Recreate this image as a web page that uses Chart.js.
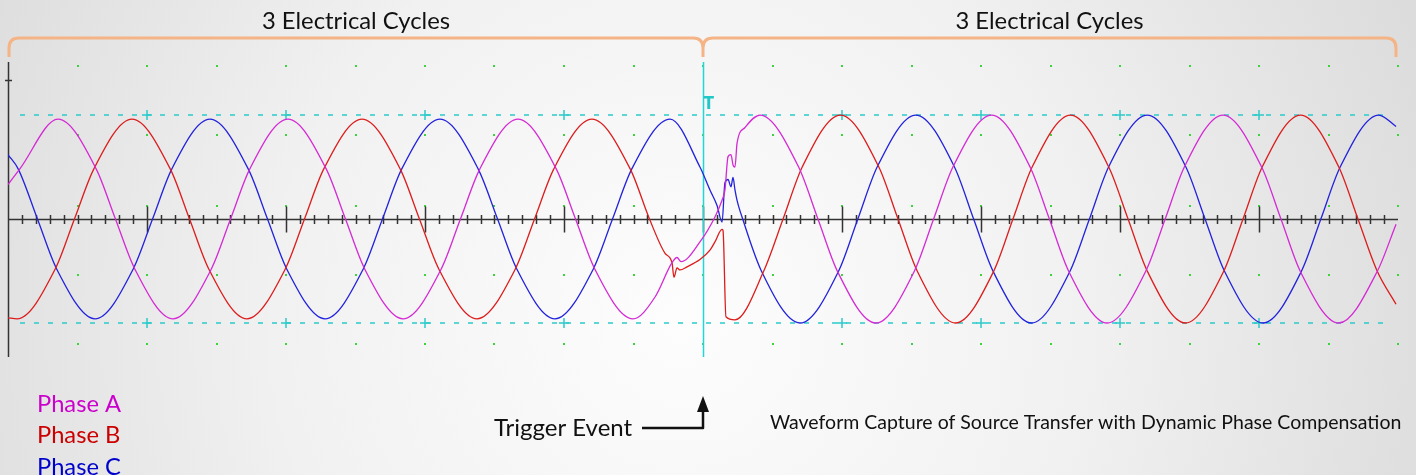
<!DOCTYPE html>
<html lang="en-US">
<head>
<title>Waveform Capture</title>
<script src="https://cdn.jsdelivr.net/npm/chart.js@4.4.0/dist/chart.umd.min.js"></script>
<style>
    body { margin: 0; overflow: hidden; background: #e4e4e4; }
</style>
</head>
<body>
<canvas id="chart-0" width="1416" height="475"></canvas>
<script>
// time in ms (10 ms / division), values in per unit (dashed lines = +/-1)
var phaseA_t = [0, 0.84, 3.60, 6.35, 7.73, 9.12, 11.87, 14.63, 16.01, 17.39, 20.14, 22.90, 24.28, 25.66, 28.42, 31.17, 32.55, 33.94, 36.69, 39.45, 40.83, 42.21, 44.96,
    46.55, 47.77, 48.13, 48.42, 49.78, 50.86, 51.37, 51.58, 51.80, 52.01, 52.16, 52.30, 52.45, 53.02, 54.10,
    56.88, 58.27, 59.66, 62.43, 65.21, 66.59, 67.98, 70.76, 73.53, 74.92, 76.30, 79.08, 81.86, 83.25, 84.63, 87.41, 90.19, 91.58, 92.96, 95.74, 98.52, 99.86];
var phaseA_v = [0.33, 0.48, 0.96, 0.48, 0, -0.48, -0.96, -0.48, 0, 0.48, 0.96, 0.48, 0, -0.48, -0.96, -0.48, 0, 0.48, 0.96, 0.48, 0, -0.48, -0.96,
    -0.75, -0.42, -0.37, -0.41, -0.22, 0.02, 0.18, 0.28, 0.60, 0.62, 0.52, 0.50, 0.73, 0.88, 1.0,
    0.5, 0, -0.5, -1.0, -0.5, 0, 0.5, 1.0, 0.5, 0, -0.5, -1.0, -0.5, 0, 0.5, 1.0, 0.5, 0, -0.5, -1.0, -0.5, -0.05];

var phaseB_t = [0, 0.65, 3.40, 4.78, 6.17, 8.92, 11.68, 13.06, 14.44, 17.19, 19.95, 21.33, 22.71, 25.47, 28.22, 29.60, 30.99, 33.74, 36.50, 37.88, 39.26, 42.01, 44.77, 46.15,
    47.27, 47.77, 47.91, 48.13, 48.35, 48.85, 49.78, 50.50, 50.86, 51.37, 51.44, 51.65, 52.30,
    54.37, 55.76, 57.14, 59.89, 62.65, 64.03, 65.41, 68.17, 70.92, 72.30, 73.68, 76.44, 79.19, 80.58, 81.96, 84.71, 87.47, 88.85, 90.23, 92.99, 95.74, 97.12, 98.50, 99.86];
var phaseB_v = [-0.95, -0.96, -0.48, 0, 0.48, 0.96, 0.48, 0, -0.48, -0.96, -0.48, 0, 0.48, 0.96, 0.48, 0, -0.48, -0.96, -0.48, 0, 0.48, 0.96, 0.48, 0,
    -0.33, -0.42, -0.56, -0.47, -0.49, -0.46, -0.39, -0.30, -0.22, -0.10, -0.11, -0.94, -0.97,
    -0.5, 0, 0.5, 1.0, 0.5, 0, -0.5, -1.0, -0.5, 0, 0.5, 1.0, 0.5, 0, -0.5, -1.0, -0.5, 0, 0.5, 1.0, 0.5, 0, -0.5, -0.82];

var phaseC_t = [0, 0.74, 2.12, 3.50, 6.26, 9.01, 10.40, 11.78, 14.53, 17.29, 18.67, 20.05, 22.81, 25.56, 26.94, 28.32, 31.08, 33.83, 35.22, 36.60, 39.35, 42.11, 43.49, 44.87, 47.63,
    49.78, 50.50, 51.01, 51.37, 51.58, 51.80, 52.01, 52.16, 52.30, 52.45, 52.88,
    54.20, 56.98, 59.76, 61.14, 62.53, 65.31, 68.09, 69.47, 70.86, 73.63, 76.41, 77.80, 79.18, 81.96, 84.74, 86.12, 87.51, 90.29, 93.06, 94.45, 95.84, 98.62, 99.86];
var phaseC_v = [0.62, 0.48, 0, -0.48, -0.96, -0.48, 0, 0.48, 0.96, 0.48, 0, -0.48, -0.96, -0.48, 0, 0.48, 0.96, 0.48, 0, -0.48, -0.96, -0.48, 0, 0.48, 0.96,
    0.50, 0.28, 0.13, -0.03, 0.35, 0.38, 0.31, 0.40, 0.28, 0.18, -0.01,
    -0.5, -1.0, -0.5, 0, 0.5, 1.0, 0.5, 0, -0.5, -1.0, -0.5, 0, 0.5, 1.0, 0.5, 0, -0.5, -1.0, -0.5, 0, 0.5, 1.0, 0.89];

var phaseNames = ['Phase A', 'Phase B', 'Phase C'];
var cycleLabel = '3 Electrical Cycles';
var triggerTime = 50;
var limitLines = [1, -1];
var graticuleY = [1.47, 0.81, 0.125, -0.54, -1.2];

function pts(t, v) {
    var out = [];
    for (var i = 0; i < t.length; i++) out.push({x: t[i], y: v[i]});
    return out;
}

// pick a Lato size so the text spans about the given width
function fitFont(ctx, text, width) {
    ctx.font = '20px Lato';
    var s = 20 * width / ctx.measureText(text).width;
    ctx.font = s.toFixed(1) + 'px Lato';
}

var scopePlugin = {
    id: 'scope',
    beforeDraw: function(chart) {
        var ctx = chart.ctx;
        var g = ctx.createRadialGradient(680, 320, 0, 680, 320, 900);
        g.addColorStop(0, '#fdfdfd');
        g.addColorStop(0.45, '#f1f1f1');
        g.addColorStop(1, '#d6d6d6');
        ctx.save();
        ctx.fillStyle = g;
        ctx.fillRect(0, 0, chart.width, chart.height);
        ctx.restore();
    },
    beforeDatasetsDraw: function(chart) {
        var ctx = chart.ctx, xs = chart.scales.x, ys = chart.scales.y, a = chart.chartArea;
        var y0 = Math.round(ys.getPixelForValue(0)) + 0.5;
        ctx.save();
        // graticule dots
        ctx.fillStyle = '#3fd23f';
        for (var t = 5; t <= 100; t += 5) {
            for (var j = 0; j < graticuleY.length; j++) {
                ctx.fillRect(Math.round(xs.getPixelForValue(t)) - 1, Math.round(ys.getPixelForValue(graticuleY[j])) - 1, 2, 2);
            }
        }
        // dashed limit lines with + marks
        ctx.strokeStyle = '#2ccaca';
        ctx.lineWidth = 1.5;
        limitLines.forEach(function(v) {
            var yy = Math.round(ys.getPixelForValue(v));
            ctx.setLineDash([5, 9]);
            ctx.beginPath();
            ctx.moveTo(a.left + 12, yy);
            ctx.lineTo(a.right - 10, yy);
            ctx.stroke();
            ctx.setLineDash([]);
            for (var t = 10; t < 100; t += 10) {
                if (t === triggerTime) continue;
                var xx = Math.round(xs.getPixelForValue(t));
                ctx.beginPath();
                ctx.moveTo(xx - 5, yy); ctx.lineTo(xx + 5, yy);
                ctx.moveTo(xx, yy - 5); ctx.lineTo(xx, yy + 5);
                ctx.stroke();
            }
        });
        // zero axis with ticks
        ctx.strokeStyle = '#333';
        ctx.lineWidth = 1.5;
        ctx.beginPath();
        ctx.moveTo(a.left, y0); ctx.lineTo(a.right, y0);
        for (var t = 1; t < 100; t++) {
            var xx = Math.round(xs.getPixelForValue(t)) + 0.5;
            var h = (t % 10 === 0) ? 13 : 4.5;
            ctx.moveTo(xx, y0 - h); ctx.lineTo(xx, y0 + h);
        }
        ctx.stroke();
        // left axis
        ctx.beginPath();
        ctx.moveTo(a.left + 0.5, a.top); ctx.lineTo(a.left + 0.5, a.bottom);
        ctx.moveTo(a.left - 3, 80.5); ctx.lineTo(a.left + 4, 80.5);
        ctx.stroke();
        // trigger line
        var tx = Math.round(xs.getPixelForValue(triggerTime)) + 0.5;
        ctx.strokeStyle = '#22d6d6';
        ctx.lineWidth = 1.5;
        ctx.beginPath();
        ctx.moveTo(tx, a.top); ctx.lineTo(tx, a.bottom);
        ctx.stroke();
        ctx.fillStyle = '#22c8c8';
        ctx.font = 'bold 17px "DejaVu Sans Condensed"';
        ctx.textBaseline = 'top';
        ctx.fillText('T', tx, 96);
        ctx.restore();
    },
    afterDraw: function(chart) {
        var ctx = chart.ctx, xs = chart.scales.x;
        var xL = xs.getPixelForValue(0) + 1, xM = xs.getPixelForValue(triggerTime), xR = xs.getPixelForValue(100) - 2;
        ctx.save();
        // cycle braces
        ctx.strokeStyle = '#f4b486';
        ctx.lineWidth = 3;
        ctx.lineJoin = 'round';
        ctx.beginPath();
        ctx.moveTo(xL, 57); ctx.lineTo(xL, 48); ctx.quadraticCurveTo(xL, 38, xL + 10, 38);
        ctx.lineTo(xM - 10, 38); ctx.quadraticCurveTo(xM, 38, xM, 48); ctx.lineTo(xM, 57);
        ctx.moveTo(xM, 48); ctx.quadraticCurveTo(xM, 38, xM + 10, 38);
        ctx.lineTo(xR - 10, 38); ctx.quadraticCurveTo(xR, 38, xR, 48); ctx.lineTo(xR, 57);
        ctx.stroke();
        // text
        ctx.fillStyle = '#111';
        ctx.textBaseline = 'middle';
        ctx.textAlign = 'center';
        fitFont(ctx, cycleLabel, 188);
        ctx.fillText(cycleLabel, (xL + xM) / 2, 21);
        ctx.fillText(cycleLabel, (xM + xR) / 2, 21);
        ctx.textAlign = 'left';
        var cols = ['#cc00cc', '#cc0000', '#0000cc'];
        fitFont(ctx, phaseNames[0], 84);
        for (var i = 0; i < 3; i++) {
            ctx.fillStyle = cols[i];
            ctx.fillText(phaseNames[i], 37, 404 + i * 31.5);
        }
        ctx.fillStyle = '#111';
        fitFont(ctx, 'Trigger Event', 138);
        ctx.fillText('Trigger Event', 494, 428);
        fitFont(ctx, 'Waveform Capture of Source Transfer with Dynamic Phase Compensation', 632);
        ctx.fillText('Waveform Capture of Source Transfer with Dynamic Phase Compensation', 770, 423);
        // arrow
        ctx.strokeStyle = '#111';
        ctx.lineWidth = 2.5;
        ctx.beginPath();
        ctx.moveTo(642, 428); ctx.lineTo(xM, 428); ctx.lineTo(xM, 410);
        ctx.stroke();
        ctx.beginPath();
        ctx.moveTo(xM - 6, 412); ctx.lineTo(xM + 6, 412); ctx.lineTo(xM, 396); ctx.closePath();
        ctx.fillStyle = '#111';
        ctx.fill();
        ctx.restore();
    }
};

var data = {
    datasets: [
        {label: phaseNames[0], data: pts(phaseA_t, phaseA_v), borderColor: '#d42ad4'},
        {label: phaseNames[1], data: pts(phaseB_t, phaseB_v), borderColor: '#dd1c1c'},
        {label: phaseNames[2], data: pts(phaseC_t, phaseC_v), borderColor: '#2222dd'}
    ]
};

var chart = new Chart('chart-0', {
    type: 'line',
    data: data,
    options: {
        responsive: false,
        animation: false,
        layout: {padding: {left: 8, right: 18, top: 62, bottom: 118}},
        elements: {
            point: {radius: 0},
            line: {borderWidth: 1.3, cubicInterpolationMode: 'monotone'}
        },
        plugins: {legend: {display: false}, tooltip: {enabled: false}},
        scales: {
            x: {type: 'linear', min: 0, max: 100, display: false},
            y: {min: -1.327, max: 1.51, display: false}
        }
    },
    plugins: [scopePlugin]
});
</script>
</body>
</html>
